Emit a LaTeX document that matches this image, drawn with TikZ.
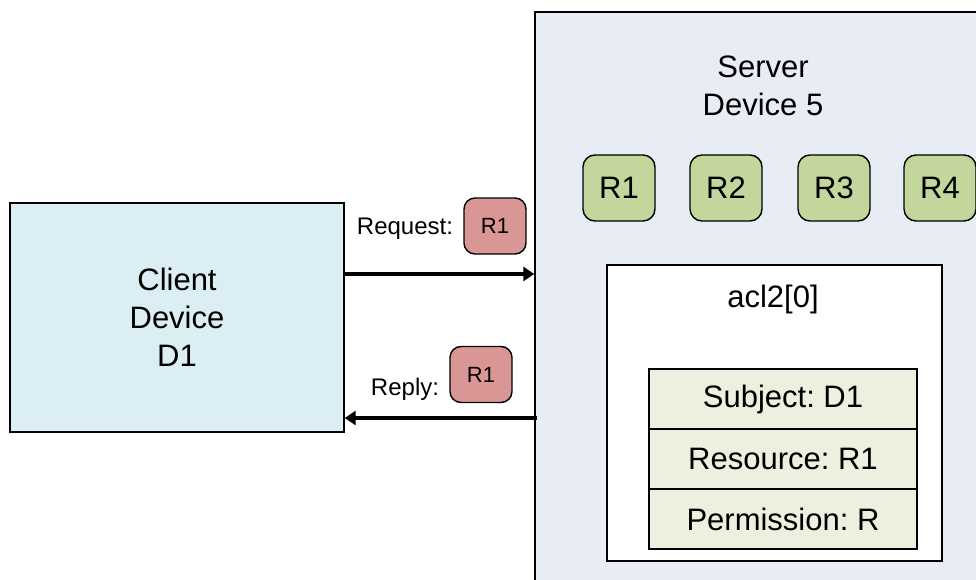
\documentclass[tikz,border=0pt]{standalone}
\usepackage{fontspec}
\setmainfont{Liberation Sans}
\frenchspacing
\usetikzlibrary{arrows.meta}
\definecolor{clientfill}{HTML}{DBEEF4}
\definecolor{serverfill}{HTML}{E8ECF4}
\definecolor{resgreen}{HTML}{C3D69B}
\definecolor{resred}{HTML}{D99694}
\definecolor{rowfill}{HTML}{EBF1DE}
\tikzset{
  big/.style={font=\fontsize{31}{38}\selectfont},
  lbl/.style={font=\fontsize{24}{29}\selectfont, inner sep=0pt},
  box/.style={draw=black, line width=1.4pt, inner sep=0pt},
  res/.style={box, rounded corners=12pt, fill=resgreen, minimum width=72pt, minimum height=66pt, big},
  msg/.style={box, rounded corners=11pt, fill=resred, minimum width=62pt, minimum height=56pt, font=\fontsize{22}{26}\selectfont},
  row/.style={box, fill=rowfill, minimum width=268pt, minimum height=60pt, big},
  arr/.style={line width=3.2pt, -{Triangle[length=11pt,width=14pt]}}
}
\begin{document}
\begin{tikzpicture}[x=1pt,y=-1pt]
\useasboundingbox (0,0) rectangle (976,580);
\fill[white] (0,0) rectangle (976,580);
\begin{scope}
\clip (0,0) rectangle (976,580);
% server
\node[box, fill=serverfill, minimum width=455pt, minimum height=588pt] (server) at (762.5,306) {};
\node[big, align=center] (srvlabel) at (763,86) {Server\\Device 5};
\node[res] (r1) at (619,188) {R1};
\node[res] (r2) at (726,188) {R2};
\node[res] (r3) at (834,188) {R3};
\node[res] (r4) at (940,188) {R4};
% acl
\node[box, fill=white, minimum width=335pt, minimum height=296pt] (acl) at (774.5,413) {};
\node[big] (acllabel) at (773,299) {acl2[0]};
\node[row] (subj) at (783,399) {Subject: D1};
\node[row] (resrc) at (783,459) {Resource: R1};
\node[row] (perm) at (783,519) {Permission: R};
% client
\node[box, fill=clientfill, minimum width=334pt, minimum height=229pt, big, align=center] (client) at (177,317.5) {Client\\Device\\D1};
% messages
\node[lbl] (reqlabel) at (405,229) {Request:};
\node[msg] (reqres) at (495,226) {R1};
\node[lbl] (replabel) at (405,389) {Reply:};
\node[msg] (repres) at (481,374.5) {R1};
% arrows
\coordinate (reqS) at ([yshift=43.5pt]client.east);
\draw[arr] (reqS) -- (reqS -| server.west);
\coordinate (repS) at ([yshift=-100.5pt,xshift=3pt]server.west |- client.east);
\draw[arr] (repS) -- (repS -| client.east);
\end{scope}
\end{tikzpicture}
\end{document}
